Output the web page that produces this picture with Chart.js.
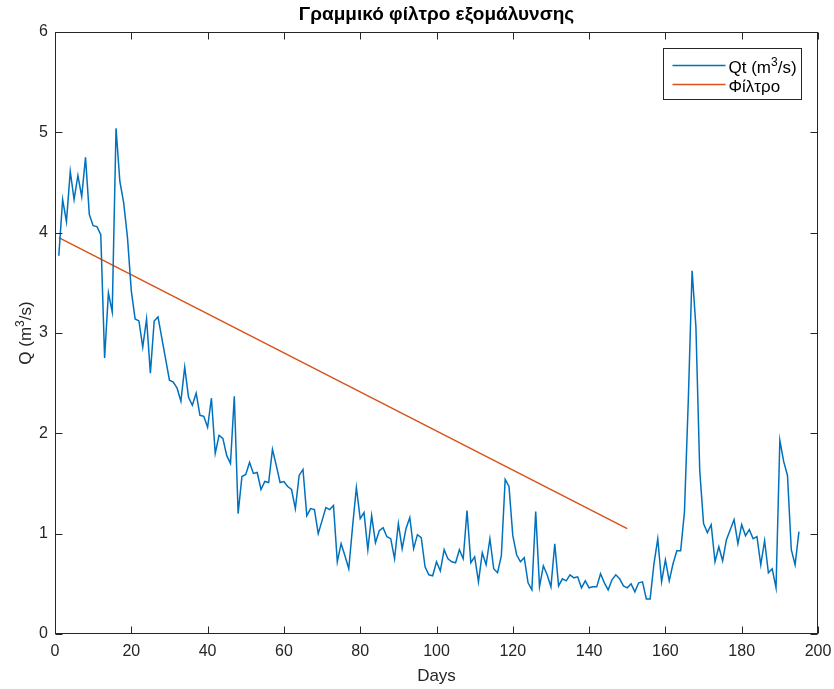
<!DOCTYPE html>
<html>
<head>
<meta charset="utf-8">
<script src="https://cdn.jsdelivr.net/npm/chart.js@4.4.1/dist/chart.umd.min.js"></script>
<style>
  body { margin: 0; background: #fff; }
</style>
</head>
<body>
<canvas id="grafica" width="834" height="689"></canvas>
<script>
// daily flow Qt (m3/s), day 1 .. 195
const qt = [
  3.77, 4.33, 4.11, 4.61, 4.33, 4.57, 4.36, 4.75, 4.18, 4.07,
  4.06, 3.98, 2.75, 3.40, 3.21, 5.04, 4.51, 4.30, 3.95, 3.42,
  3.14, 3.12, 2.86, 3.14, 2.60, 3.12, 3.16, 2.95, 2.74, 2.53,
  2.51, 2.45, 2.32, 2.66, 2.36, 2.28, 2.40, 2.18, 2.17, 2.06,
  2.35, 1.80, 1.98, 1.95, 1.78, 1.70, 2.37, 1.20, 1.57, 1.59,
  1.71, 1.60, 1.61, 1.44, 1.52, 1.51, 1.84, 1.68, 1.51, 1.52,
  1.47, 1.44, 1.25, 1.58, 1.64, 1.18, 1.25, 1.24, 1.00, 1.13,
  1.26, 1.24, 1.28, 0.72, 0.90, 0.78, 0.65, 1.07, 1.46, 1.15,
  1.21, 0.84, 1.18, 0.91, 1.03, 1.06, 0.97, 0.95, 0.75, 1.10,
  0.85, 1.05, 1.16, 0.85, 0.99, 0.96, 0.67, 0.59, 0.58, 0.72,
  0.63, 0.84, 0.75, 0.72, 0.71, 0.84, 0.75, 1.23, 0.71, 0.77,
  0.52, 0.81, 0.69, 0.95, 0.65, 0.61, 0.78, 1.54, 1.47, 0.98,
  0.79, 0.72, 0.76, 0.51, 0.44, 1.22, 0.47, 0.68, 0.59, 0.47,
  0.90, 0.48, 0.55, 0.53, 0.59, 0.56, 0.57, 0.46, 0.53, 0.46,
  0.47, 0.47, 0.60, 0.51, 0.44, 0.54, 0.59, 0.55, 0.48, 0.46,
  0.50, 0.42, 0.51, 0.52, 0.35, 0.35, 0.70, 0.95, 0.52, 0.74,
  0.53, 0.70, 0.83, 0.83, 1.22, 2.33, 3.62, 3.06, 1.63, 1.10,
  1.01, 1.09, 0.72, 0.87, 0.73, 0.94, 1.04, 1.14, 0.90, 1.09,
  0.98, 1.04, 0.95, 0.97, 0.69, 0.93, 0.61, 0.65, 0.46, 1.93,
  1.72, 1.58, 0.84, 0.69, 1.02
];
const days = qt.map((_, i) => i + 1);

// linear smoothing filter (straight line)
const filtroDays = [1, 150];
const filtroQ = [3.95, 1.05];

const titulo = 'Γραμμικό φίλτρο εξομάλυνσης';
const etiquetaX = 'Days';
// texts with a superscript: [before, superscript, after]
const etiquetaY = ['Q (m', '3', '/s)'];
const nombres = [['Qt (m', '3', '/s)'], ['Φίλτρο', '', '']];

const AXIS = '#262626';
const FONT = '"Liberation Sans", Arial, sans-serif';

// writes "a" + superscript "b" + "c" starting at (tx, base)
function textoSup(ctx, parts, tx, base, color) {
  ctx.fillStyle = color;
  ctx.font = '17px ' + FONT;
  ctx.fillText(parts[0], tx, base);
  tx += ctx.measureText(parts[0]).width;
  if (parts[1]) {
    ctx.font = '12px ' + FONT;
    ctx.fillText(parts[1], tx, base - 7);
    tx += ctx.measureText(parts[1]).width;
    ctx.font = '17px ' + FONT;
    ctx.fillText(parts[2], tx, base);
  }
}

function anchoSup(ctx, parts) {
  ctx.font = '17px ' + FONT;
  let w = ctx.measureText(parts[0] + parts[2]).width;
  ctx.font = '12px ' + FONT;
  return w + ctx.measureText(parts[1]).width;
}

const matlabFrame = {
  id: 'matlabFrame',
  afterDraw(chart) {
    const ctx = chart.ctx;
    const a = chart.chartArea;
    const x = chart.scales.x, y = chart.scales.y;
    const L = Math.round(a.left) + 0.5, R = Math.round(a.right) - 0.5;
    const T = Math.round(a.top) + 0.5, B = Math.round(a.bottom) - 0.5;
    ctx.save();
    ctx.strokeStyle = AXIS;
    ctx.lineWidth = 1;
    ctx.strokeRect(L, T, R - L, B - T);
    ctx.beginPath();
    x.ticks.forEach(t => {
      const px = Math.round(x.getPixelForValue(t.value)) + 0.5;
      ctx.moveTo(px, B); ctx.lineTo(px, B - 7);
      ctx.moveTo(px, T); ctx.lineTo(px, T + 7);
    });
    y.ticks.forEach(t => {
      const py = Math.round(y.getPixelForValue(t.value)) + 0.5;
      ctx.moveTo(L, py); ctx.lineTo(L + 7, py);
      ctx.moveTo(R, py); ctx.lineTo(R - 7, py);
    });
    ctx.stroke();

    // title
    ctx.fillStyle = '#000';
    ctx.font = 'bold 19px ' + FONT;
    ctx.textAlign = 'center';
    ctx.textBaseline = 'middle';
    ctx.fillText(titulo, (a.left + a.right) / 2, 15);

    // y axis title, rotated
    ctx.textAlign = 'left';
    ctx.textBaseline = 'alphabetic';
    ctx.save();
    ctx.translate(31, (a.top + a.bottom) / 2);
    ctx.rotate(-Math.PI / 2);
    textoSup(ctx, etiquetaY, -anchoSup(ctx, etiquetaY) / 2, 0, AXIS);
    ctx.restore();

    // legend box
    const bx = Math.round(a.right) - 154.5, by = Math.round(a.top) + 16.5;
    const bw = 138, bh = 51;
    ctx.fillStyle = '#fff';
    ctx.fillRect(bx, by, bw, bh);
    ctx.strokeStyle = AXIS;
    ctx.strokeRect(bx, by, bw, bh);
    chart.data.datasets.forEach((ds, i) => {
      const ly = Math.round(by + 16 + i * 19) + 0.5;
      ctx.strokeStyle = ds.borderColor;
      ctx.lineWidth = 1.5;
      ctx.beginPath();
      ctx.moveTo(bx + 9, ly); ctx.lineTo(bx + 62, ly);
      ctx.stroke();
      textoSup(ctx, nombres[i], bx + 65, ly + 7, '#000');
    });
    ctx.restore();
  }
};

const ctx = document.getElementById('grafica').getContext('2d');
const chart = new Chart(ctx, {
  type: 'line',
  data: {
    datasets: [
      {
        label: nombres[0].join(''),
        data: days.map((d, i) => ({ x: d, y: qt[i] })),
        borderColor: '#0072BD',
        borderWidth: 1.5,
        pointRadius: 0,
        fill: false
      },
      {
        label: nombres[1].join(''),
        data: filtroDays.map((d, i) => ({ x: d, y: filtroQ[i] })),
        borderColor: '#D95319',
        borderWidth: 1.5,
        pointRadius: 0,
        fill: false
      }
    ]
  },
  options: {
    responsive: false,
    animation: false,
    layout: { padding: { top: 32, right: 16, left: 0, bottom: 0 } },
    plugins: {
      legend: { display: false },
      title: { display: false },
      tooltip: { enabled: false }
    },
    scales: {
      x: {
        type: 'linear',
        min: 0,
        max: 200,
        grid: { display: false, drawTicks: false },
        border: { display: false },
        ticks: { stepSize: 20, padding: 8, color: AXIS, font: { family: FONT, size: 16 }, maxRotation: 0 },
        title: { display: true, text: etiquetaX, color: AXIS, font: { family: FONT, size: 17 }, padding: { top: 0, bottom: 2 } },
        afterFit(s) { s.height = 55; s.paddingLeft = 0; s.paddingRight = 0; }
      },
      y: {
        min: 0,
        max: 6,
        grid: { display: false, drawTicks: false },
        border: { display: false },
        ticks: { stepSize: 1, padding: 7, color: AXIS, font: { family: FONT, size: 16 } },
        title: { display: false },
        afterFit(s) { s.width = 55; s.paddingTop = 0; s.paddingBottom = 0; }
      }
    }
  },
  plugins: [matlabFrame]
});
</script>
</body>
</html>
